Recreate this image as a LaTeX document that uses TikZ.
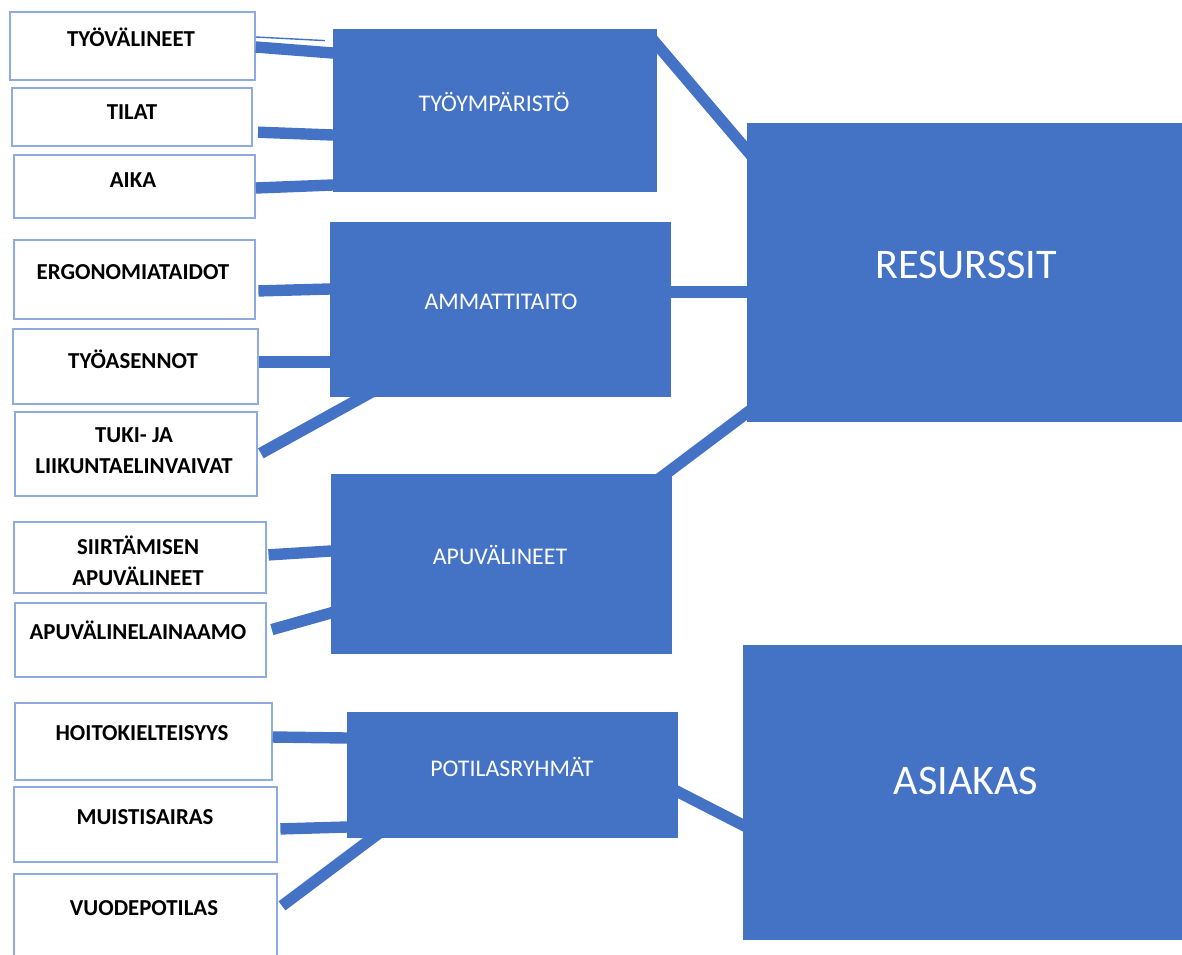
\documentclass[tikz,border=0pt]{standalone}
\usepackage{fontspec}
\setmainfont{Carlito}
\definecolor{boxblue}{HTML}{4472C4}
\definecolor{edgeblue}{HTML}{8FAADC}
\tikzset{
  item/.style={draw=edgeblue, line width=0.9pt, fill=white, inner sep=0pt},
  itemtext/.style={font=\bfseries\fontsize{13}{17.5}\selectfont, align=center, inner sep=0pt},
  group/.style={fill=boxblue, inner sep=0pt},
  grouptext/.style={text=white, font=\fontsize{13.6}{16}\selectfont, inner sep=0pt},
  maintext/.style={text=white, font=\fontsize{24}{28}\selectfont, inner sep=0pt},
  link/.style={draw=boxblue, line width=6.5pt, shorten >=-6pt},
}

\begin{document}
\begin{tikzpicture}[x=0.02cm, y=-0.02cm]
        \useasboundingbox (0,0) rectangle (1182,954);

        % Draw nodes
        \node[item, minimum width=4.90cm, minimum height=1.36cm] (tyovalineet) at (132.5,46) {};
        \node[item, minimum width=4.80cm, minimum height=1.16cm] (tilat) at (132,117) {};
        \node[item, minimum width=4.82cm, minimum height=1.26cm] (aika) at (134.5,186.5) {};
        \node[item, minimum width=4.82cm, minimum height=1.58cm] (ergonomia) at (134.5,279.5) {};
        \node[item, minimum width=4.90cm, minimum height=1.50cm] (tyoasennot) at (135.5,366.5) {};
        \node[item, minimum width=4.84cm, minimum height=1.68cm] (tuki) at (136,454) {};
        \node[item, minimum width=5.04cm, minimum height=1.42cm] (siirtaminen) at (140,557.5) {};
        \node[item, minimum width=5.02cm, minimum height=1.48cm] (lainaamo) at (140.5,640) {};
        \node[item, minimum width=5.14cm, minimum height=1.54cm] (hoitokielteisyys) at (143.5,741.5) {};
        \node[item, minimum width=5.26cm, minimum height=1.50cm] (muistisairas) at (145.5,824.5) {};
        \node[item, minimum width=5.26cm, minimum height=2.52cm] (vuodepotilas) at (145.5,937) {};

        \node[group, minimum width=6.48cm, minimum height=3.26cm] (tyoymparisto) at (495,110.5) {};
        \node[group, minimum width=6.82cm, minimum height=3.50cm] (ammattitaito) at (500.5,309.5) {};
        \node[group, minimum width=6.82cm, minimum height=3.60cm] (apuvalineet) at (501.5,564) {};
        \node[group, minimum width=6.62cm, minimum height=2.52cm] (potilasryhmat) at (512.5,775) {};
        \node[group, minimum width=8.70cm, minimum height=5.98cm] (resurssit) at (964.5,272.5) {};
        \node[group, minimum width=8.78cm, minimum height=5.90cm] (asiakas) at (962.5,792.5) {};

        % Labels
        \node[itemtext] (t-tyovalineet) at (131,37) {TYÖVÄLINEET};
        \node[itemtext] (t-tilat) at (132,112) {TILAT};
        \node[itemtext] (t-aika) at (133,180) {AIKA};
        \node[itemtext] (t-ergonomia) at (133,272) {ERGONOMIATAIDOT};
        \node[itemtext] (t-tyoasennot) at (133,359) {TYÖASENNOT};
        \node[itemtext] (t-tuki) at (134,451) {TUKI- JA\\LIIKUNTAELINVAIVAT};
        \node[itemtext] (t-siirtaminen) at (138,561) {SIIRTÄMISEN\\APUVÄLINEET};
        \node[itemtext] (t-lainaamo) at (138,630) {APUVÄLINELAINAAMO};
        \node[itemtext] (t-hoitokielteisyys) at (142,733) {HOITOKIELTEISYYS};
        \node[itemtext] (t-muistisairas) at (145,817) {MUISTISAIRAS};
        \node[itemtext] (t-vuodepotilas) at (144,908) {VUODEPOTILAS};

        \node[grouptext] (t-tyoymparisto) at (494,102) {TYÖYMPÄRISTÖ};
        \node[grouptext] (t-ammattitaito) at (501,302) {AMMATTITAITO};
        \node[grouptext] (t-apuvalineet) at (500,555) {APUVÄLINEET};
        \node[grouptext] (t-potilasryhmat) at (512,767) {POTILASRYHMÄT};
        \node[maintext] (t-resurssit) at (966,265) {RESURSSIT};
        \node[maintext] (t-asiakas) at (966,781) {ASIAKAS};

        % Draw connections
        \draw[draw=boxblue, line width=0.8pt, shorten >=4.5pt] (tyovalineet.east |- 0,37) -- (tyoymparisto.west |- 0,41);
        \draw[link] (tyovalineet.east |- 0,47) -- (tyoymparisto.west |- 0,53);
        \draw[link, shorten <=3pt] (tilat.east |- 0,132) -- (tyoymparisto.west |- 0,135);
        \draw[link] (aika.east |- 0,188) -- (tyoymparisto.west |- 0,185);
        \draw[link, shorten <=1.5pt] (ergonomia.east |- 0,291) -- (ammattitaito.west |- 0,289);
        \draw[link] (tyoasennot.east |- 0,362) -- (ammattitaito.west |- 0,362);
        \draw[link, shorten <=2pt] (tuki.east |- 0,455) -- (ammattitaito.south -| 362,0);
        \draw[link, shorten <=1pt] (siirtaminen.east |- 0,555) -- (apuvalineet.west |- 0,551);
        \draw[link, shorten <=3pt] (lainaamo.east |- 0,631) -- (apuvalineet.west |- 0,613);
        \draw[link] (hoitokielteisyys.east |- 0,737) -- (potilasryhmat.west |- 0,738);
        \draw[link, shorten <=1.5pt] (muistisairas.east |- 0,829) -- (potilasryhmat.west |- 0,827);
        \draw[link, shorten <=3pt] (vuodepotilas.east |- 0,909) -- (potilasryhmat.south -| 372,0);

        \draw[link, shorten <=-6pt] (tyoymparisto.east |- 0,45) -- (resurssit.west |- 0,150);
        \draw[link, shorten <=-6pt] (ammattitaito.east |- 0,292) -- (resurssit.west |- 0,292);
        \draw[link, shorten <=-6pt] (apuvalineet.north -| 666,0) -- (resurssit.west |- 0,413);
        \draw[link, shorten <=-6pt] (potilasryhmat.east |- 0,792) -- (asiakas.west |- 0,825);
    \end{tikzpicture}
\end{document}
